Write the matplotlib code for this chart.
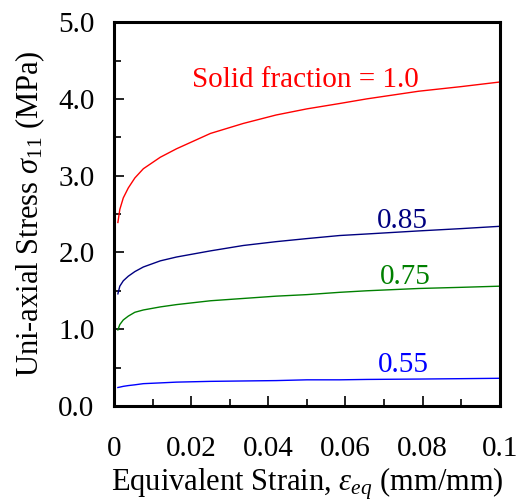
import matplotlib
matplotlib.use('Agg')
import matplotlib.pyplot as plt
from matplotlib.ticker import MultipleLocator

plt.rcParams['font.family'] = ['Liberation Serif', 'DejaVu Serif']
plt.rcParams['mathtext.fontset'] = 'custom'
plt.rcParams['mathtext.rm'] = 'Liberation Serif'
plt.rcParams['mathtext.it'] = 'Liberation Serif:italic'

# curves (strain, stress in MPa)
strain = [0.001, 0.0015, 0.0024, 0.0037, 0.0054, 0.0076, 0.012, 0.0162, 0.025,
          0.0335, 0.042, 0.05, 0.0585, 0.0655, 0.079, 0.09, 0.1]
s_100 = [2.39, 2.56, 2.71, 2.84, 2.97, 3.09, 3.24, 3.35, 3.55,
         3.68, 3.79, 3.87, 3.94, 4.00, 4.10, 4.16, 4.22]
s_085 = [1.46, 1.56, 1.63, 1.69, 1.75, 1.81, 1.89, 1.94, 2.02,
         2.09, 2.14, 2.18, 2.22, 2.24, 2.28, 2.31, 2.34]
s_075 = [0.99, 1.06, 1.12, 1.17, 1.22, 1.25, 1.29, 1.32, 1.37,
         1.40, 1.43, 1.45, 1.48, 1.50, 1.53, 1.545, 1.56]
s_055 = [0.24, 0.245, 0.255, 0.265, 0.275, 0.29, 0.30, 0.31, 0.32,
         0.325, 0.33, 0.34, 0.34, 0.345, 0.35, 0.355, 0.36]

xticks = [0, 0.02, 0.04, 0.06, 0.08, 0.1]
xtick_labels = ['0', '0.02', '0.04', '0.06', '0.08', '0.1']
yticks = [0, 1, 2, 3, 4, 5]
ytick_labels = ['0.0', '1.0', '2.0', '3.0', '4.0', '5.0']

fig = plt.figure(figsize=(5.19, 5.03), dpi=100)
ax = fig.add_axes([0.2197, 0.193, 0.7433, 0.763])

ax.plot(strain, s_100, color='#ff0000', lw=1.0)
ax.plot(strain, s_085, color='#000080', lw=1.0)
ax.plot(strain, s_075, color='#008000', lw=1.0)
ax.plot(strain, s_055, color='#0000ff', lw=1.0)

ax.text(0.0497, 4.16, 'Solid fraction = 1.0', color='#ff0000', fontsize=21, ha='center', va='baseline')
ax.text(0.0747, 2.32, '0.85', color='#000080', fontsize=21, ha='center', va='baseline')
ax.text(0.0754, 1.59, '0.75', color='#008000', fontsize=21, ha='center', va='baseline')
ax.text(0.0749, 0.44, '0.55', color='#0000ff', fontsize=21, ha='center', va='baseline')

ax.set_xlim(0, 0.1)
ax.set_ylim(0, 5)
ax.set_xticks(xticks)
ax.set_xticklabels(xtick_labels)
ax.set_yticks(yticks)
ax.set_yticklabels(ytick_labels)
ax.xaxis.set_minor_locator(MultipleLocator(0.01))
ax.yaxis.set_minor_locator(MultipleLocator(0.5))
ax.tick_params(which='both', direction='in', width=1.2, labelsize=21)
ax.tick_params(which='major', length=7)
ax.tick_params(which='minor', length=5)
ax.tick_params(axis='x', pad=22)
ax.tick_params(axis='y', pad=14)
for s in ax.spines.values():
    s.set_linewidth(2.2)

ax.set_xlabel(r'Equivalent Strain, $\varepsilon_{eq}$ (mm/mm)', fontsize=22, labelpad=2)
ax.set_ylabel(r'Uni-axial Stress $\sigma_{11}$ (MPa)', fontsize=22, labelpad=8)

fig.savefig('out.png', dpi=100)
